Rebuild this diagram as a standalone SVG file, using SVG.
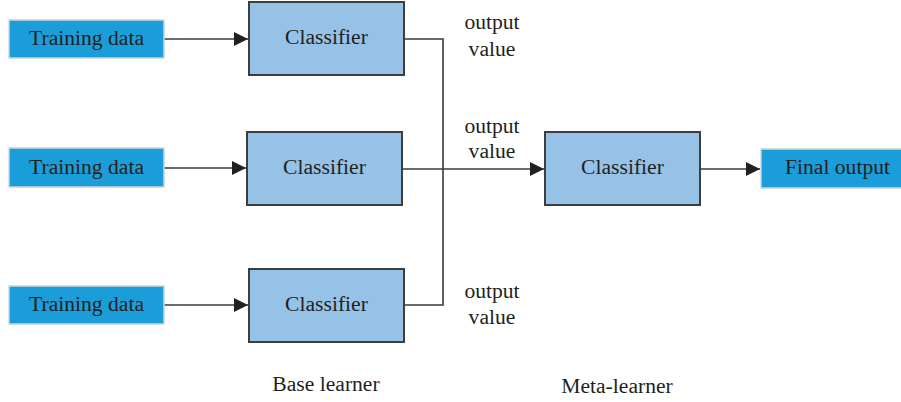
<svg xmlns="http://www.w3.org/2000/svg" width="901" height="402" viewBox="0 0 901 402">
  <defs>
    <marker id="arrow" viewBox="0 0 10 10" refX="10" refY="5" markerWidth="14" markerHeight="14" markerUnits="userSpaceOnUse" orient="auto">
      <path d="M0,0 L10,5 L0,10 z" fill="#231f20"/>
    </marker>
  </defs>
  <style>
    text { font-family: "Liberation Serif", "Times New Roman", serif; font-size: 21.6px; fill: #231f20; text-anchor: middle; }
    .data { fill: #1b9dd9; stroke: #cdd3d6; stroke-width: 1.5; }
    .clf { fill: #97c2e7; stroke: #3d3d3d; stroke-width: 2; }
    .link { fill: none; stroke: #3a3a3a; stroke-width: 1.6; }
  </style>
  <rect width="901" height="402" fill="#ffffff"/>

  <!-- connectors -->
  <g id="connectors">
    <line class="link" x1="164" y1="39" x2="248" y2="39" marker-end="url(#arrow)"/>
    <line class="link" x1="164" y1="168" x2="246" y2="168" marker-end="url(#arrow)"/>
    <line class="link" x1="164" y1="305" x2="248" y2="305" marker-end="url(#arrow)"/>
    <polyline class="link" points="404,39 443,39 443,305 404,305"/>
    <line class="link" x1="402" y1="169" x2="544" y2="169" marker-end="url(#arrow)"/>
    <line class="link" x1="701" y1="169" x2="760" y2="169" marker-end="url(#arrow)"/>
  </g>

  <!-- base learners -->
  <g id="data1"><rect class="data" x="9" y="20" width="155" height="38"/><text x="86.5" y="45">Training data</text></g>
  <g id="data2"><rect class="data" x="9" y="148" width="155" height="39"/><text x="86.5" y="174">Training data</text></g>
  <g id="data3"><rect class="data" x="9" y="286" width="155" height="38"/><text x="86.5" y="311">Training data</text></g>

  <g id="clf1"><rect class="clf" x="249" y="2" width="155" height="73"/><text x="326.5" y="44">Classifier</text></g>
  <g id="clf2"><rect class="clf" x="247" y="132" width="155" height="73"/><text x="324.5" y="174">Classifier</text></g>
  <g id="clf3"><rect class="clf" x="249" y="269" width="155" height="73"/><text x="326.5" y="311">Classifier</text></g>

  <!-- meta learner -->
  <g id="meta"><rect class="clf" x="545" y="132" width="155" height="73"/><text x="622.5" y="174">Classifier</text></g>
  <g id="final"><rect class="data" x="761" y="149" width="145" height="39"/><text x="837.5" y="174">Final output</text></g>

  <!-- labels -->
  <g id="labels">
    <text x="492" y="29">output</text>
    <text x="492" y="56">value</text>
    <text x="492" y="133">output</text>
    <text x="492" y="158">value</text>
    <text x="492" y="298">output</text>
    <text x="492" y="324">value</text>
    <text x="326" y="391">Base learner</text>
    <text x="617" y="393">Meta-learner</text>
  </g>
</svg>
